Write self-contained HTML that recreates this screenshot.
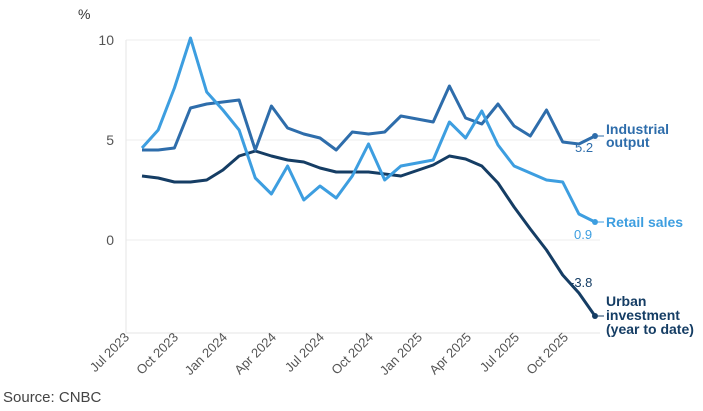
<!DOCTYPE html>
<html><head><meta charset="utf-8"><style>
body{margin:0;background:#fff;}
svg{display:block;font-family:"Liberation Sans",sans-serif;}
</style></head><body>
<svg width="703" height="411" viewBox="0 0 703 411" xmlns="http://www.w3.org/2000/svg">
<g stroke="#ececec" stroke-width="1">
<line x1="126" y1="40" x2="600" y2="40"/><line x1="126" y1="140" x2="600" y2="140"/><line x1="126" y1="240" x2="600" y2="240"/>
</g>
<line x1="126" y1="40" x2="126" y2="333" stroke="#e6e6e6"/>
<line x1="126" y1="333" x2="600" y2="333" stroke="#e6e6e6"/>
<g font-size="14" fill="#555" text-anchor="end">
<text x="114" y="45">10</text><text x="114" y="145">5</text><text x="114" y="245">0</text>
</g>
<text x="78" y="19" font-size="14" fill="#333">%</text>
<g font-size="13" fill="#555" text-anchor="end">
<text transform="translate(130,338) rotate(-45)">Jul 2023</text>
<text transform="translate(179,338) rotate(-45)">Oct 2023</text>
<text transform="translate(228,338) rotate(-45)">Jan 2024</text>
<text transform="translate(277,338) rotate(-45)">Apr 2024</text>
<text transform="translate(325,338) rotate(-45)">Jul 2024</text>
<text transform="translate(374,338) rotate(-45)">Oct 2024</text>
<text transform="translate(423,338) rotate(-45)">Jan 2025</text>
<text transform="translate(472,338) rotate(-45)">Apr 2025</text>
<text transform="translate(520,338) rotate(-45)">Jul 2025</text>
<text transform="translate(569,338) rotate(-45)">Oct 2025</text>
</g>
<text x="3" y="402" font-size="15" fill="#444">Source: CNBC</text>
<g fill="none" stroke-width="3" stroke-linejoin="round">
<polyline id="u" stroke="#153d64" points=""/>
<polyline id="i" stroke="#2e6dab" points=""/>
<polyline id="r" stroke="#3d9ee0" points=""/>
</g>
<circle cx="595" cy="136" r="3" fill="#2e6dab"/>
<circle cx="595" cy="222" r="3" fill="#3d9ee0"/>
<circle cx="595" cy="316" r="3" fill="#153d64"/>
<line x1="598" y1="136" x2="604" y2="136" stroke="#2e6dab"/>
<line x1="598" y1="222" x2="604" y2="222" stroke="#3d9ee0"/>
<line x1="598" y1="316" x2="604" y2="316" stroke="#153d64"/>
<g font-size="14" font-weight="bold">
<text x="606" y="134" fill="#2e6dab">Industrial</text>
<text x="606" y="147" fill="#2e6dab">output</text>
<text x="606" y="227" fill="#3d9ee0">Retail sales</text>
<text x="606" y="306" fill="#153d64">Urban</text>
<text x="606" y="320" fill="#153d64">investment</text>
<text x="606" y="334" fill="#153d64">(year to date)</text>
</g>
<g font-size="13">
<text x="575" y="152" fill="#2e6dab">5.2</text>
<text x="574" y="239" fill="#3d9ee0">0.9</text>
<text x="570" y="287" fill="#153d64">-3.8</text>
</g>
<script>
var I=[4.5,4.5,4.6,6.6,6.8,6.9,7.0,4.5,6.7,5.6,5.3,5.1,4.5,5.4,5.3,5.4,6.2,6.05,5.9,7.7,6.1,5.8,6.8,5.7,5.2,6.5,4.9,4.8,5.2];
var R=[4.6,5.5,7.6,10.1,7.4,6.5,5.5,3.1,2.3,3.7,2.0,2.7,2.1,3.2,4.8,3.0,3.7,3.85,4.0,5.9,5.1,6.45,4.75,3.7,3.35,3.0,2.9,1.3,0.9];
var U=[3.2,3.1,2.9,2.9,3.0,3.5,4.2,4.45,4.2,4.0,3.9,3.6,3.4,3.4,3.4,3.3,3.2,3.75,4.2,4.05,3.7,2.85,1.65,0.55,-0.5,-1.75,-2.65,-3.8];
function p(a,off){return a.map(function(v,k){return (142+(k+(off||0))*16.18).toFixed(1)+","+(240-v*20).toFixed(1)}).join(" ")}
document.getElementById("i").setAttribute("points",p(I));
document.getElementById("r").setAttribute("points",p(R));
document.getElementById("u").setAttribute("points",p(U.slice(0,17))+" "+p(U.slice(17),18));
</script>
</svg>
</body></html>
